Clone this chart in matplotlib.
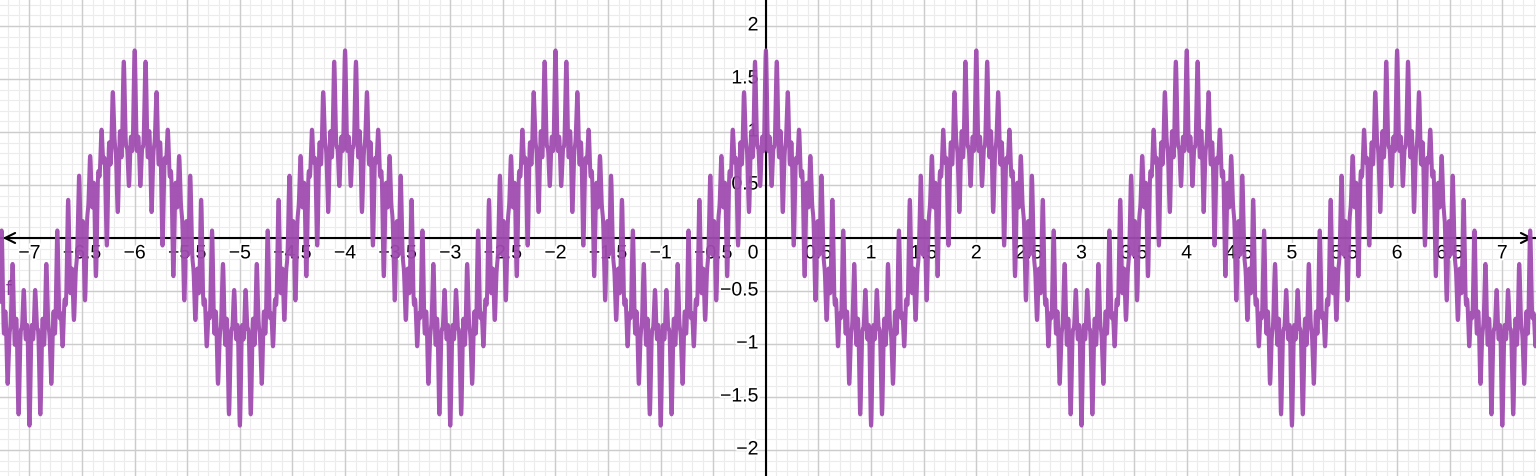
import numpy as np
import matplotlib
matplotlib.use('Agg')
from matplotlib import pyplot as plt
import matplotlib.patheffects as pe

# f(x) = sum of cosine terms (amplitude, cycles per unit)
amplitudes = [1.0, 0.42, 0.2, 0.15]
frequencies = [0.5, 9.5, 28.5, 20.5]
x_ticks = [-7, -6.5, -6, -5.5, -5, -4.5, -4, -3.5, -3, -2.5, -2, -1.5, -1, -0.5,
           0.5, 1, 1.5, 2, 2.5, 3, 3.5, 4, 4.5, 5, 5.5, 6, 6.5, 7]
y_ticks = [-2, -1.5, -1, -0.5, 0.5, 1, 1.5, 2]
xlim = (-7.28, 7.32)
ylim = (-2.245, 2.245)

def fmt(v):
    s = ('%g' % v)
    return s.replace('-', '\u2212')

x = np.linspace(xlim[0], xlim[1], 20000)
y = np.zeros_like(x)
for a, f in zip(amplitudes, frequencies):
    y += a * np.cos(2 * np.pi * f * x)

fig = plt.figure(figsize=(15.36, 4.76), dpi=100)
ax = fig.add_axes([0, 0, 1, 1])
ax.set_xlim(*xlim)
ax.set_ylim(*ylim)
for s in ax.spines.values():
    s.set_visible(False)
ax.set_xticks([]); ax.set_yticks([])

# grid
for v in np.arange(-7.3, 7.4, 0.1):
    ax.axvline(v, color='#ececec', lw=0.8, zorder=0)
for v in np.arange(-2.2, 2.3, 0.1):
    ax.axhline(v, color='#ececec', lw=0.8, zorder=0)
for v in np.arange(-7, 7.5, 0.5):
    ax.axvline(v, color='#cccccc', lw=1.0, zorder=0.5)
for v in np.arange(-2, 2.5, 0.5):
    ax.axhline(v, color='#cccccc', lw=1.0, zorder=0.5)

# axes
ax.axhline(0, color='black', lw=1.5, zorder=2)
ax.axvline(0, color='black', lw=1.5, zorder=2)
ax.annotate('', xy=(xlim[1], 0), xytext=(xlim[1] - 0.15, 0),
            arrowprops=dict(arrowstyle='->', color='black', lw=1.5, mutation_scale=18), zorder=3)
ax.annotate('', xy=(xlim[0], 0), xytext=(xlim[0] + 0.15, 0),
            arrowprops=dict(arrowstyle='->', color='black', lw=1.5, mutation_scale=18), zorder=3)

halo = [pe.withStroke(linewidth=3, foreground='white')]
for v in x_ticks:
    ax.text(v, -0.15, fmt(v), ha='center', va='center', fontsize=14,
            family='Liberation Sans', path_effects=halo, zorder=3)
ax.text(-0.07, -0.15, '0', ha='right', va='center', fontsize=14,
        family='Liberation Sans', path_effects=halo, zorder=3)
for v in y_ticks:
    ax.text(-0.07, v, fmt(v), ha='right', va='center', fontsize=14,
            family='Liberation Sans', path_effects=halo, zorder=3)

ax.plot(x, y, color='#a04cb0', lw=2.9, alpha=0.95, zorder=4)
ax.text(-7.2, -0.49, 'f', color='#8a3a9a', fontsize=15,
        family='Liberation Sans', ha='center', va='center', zorder=5)

fig.savefig('out.png', dpi=100)
